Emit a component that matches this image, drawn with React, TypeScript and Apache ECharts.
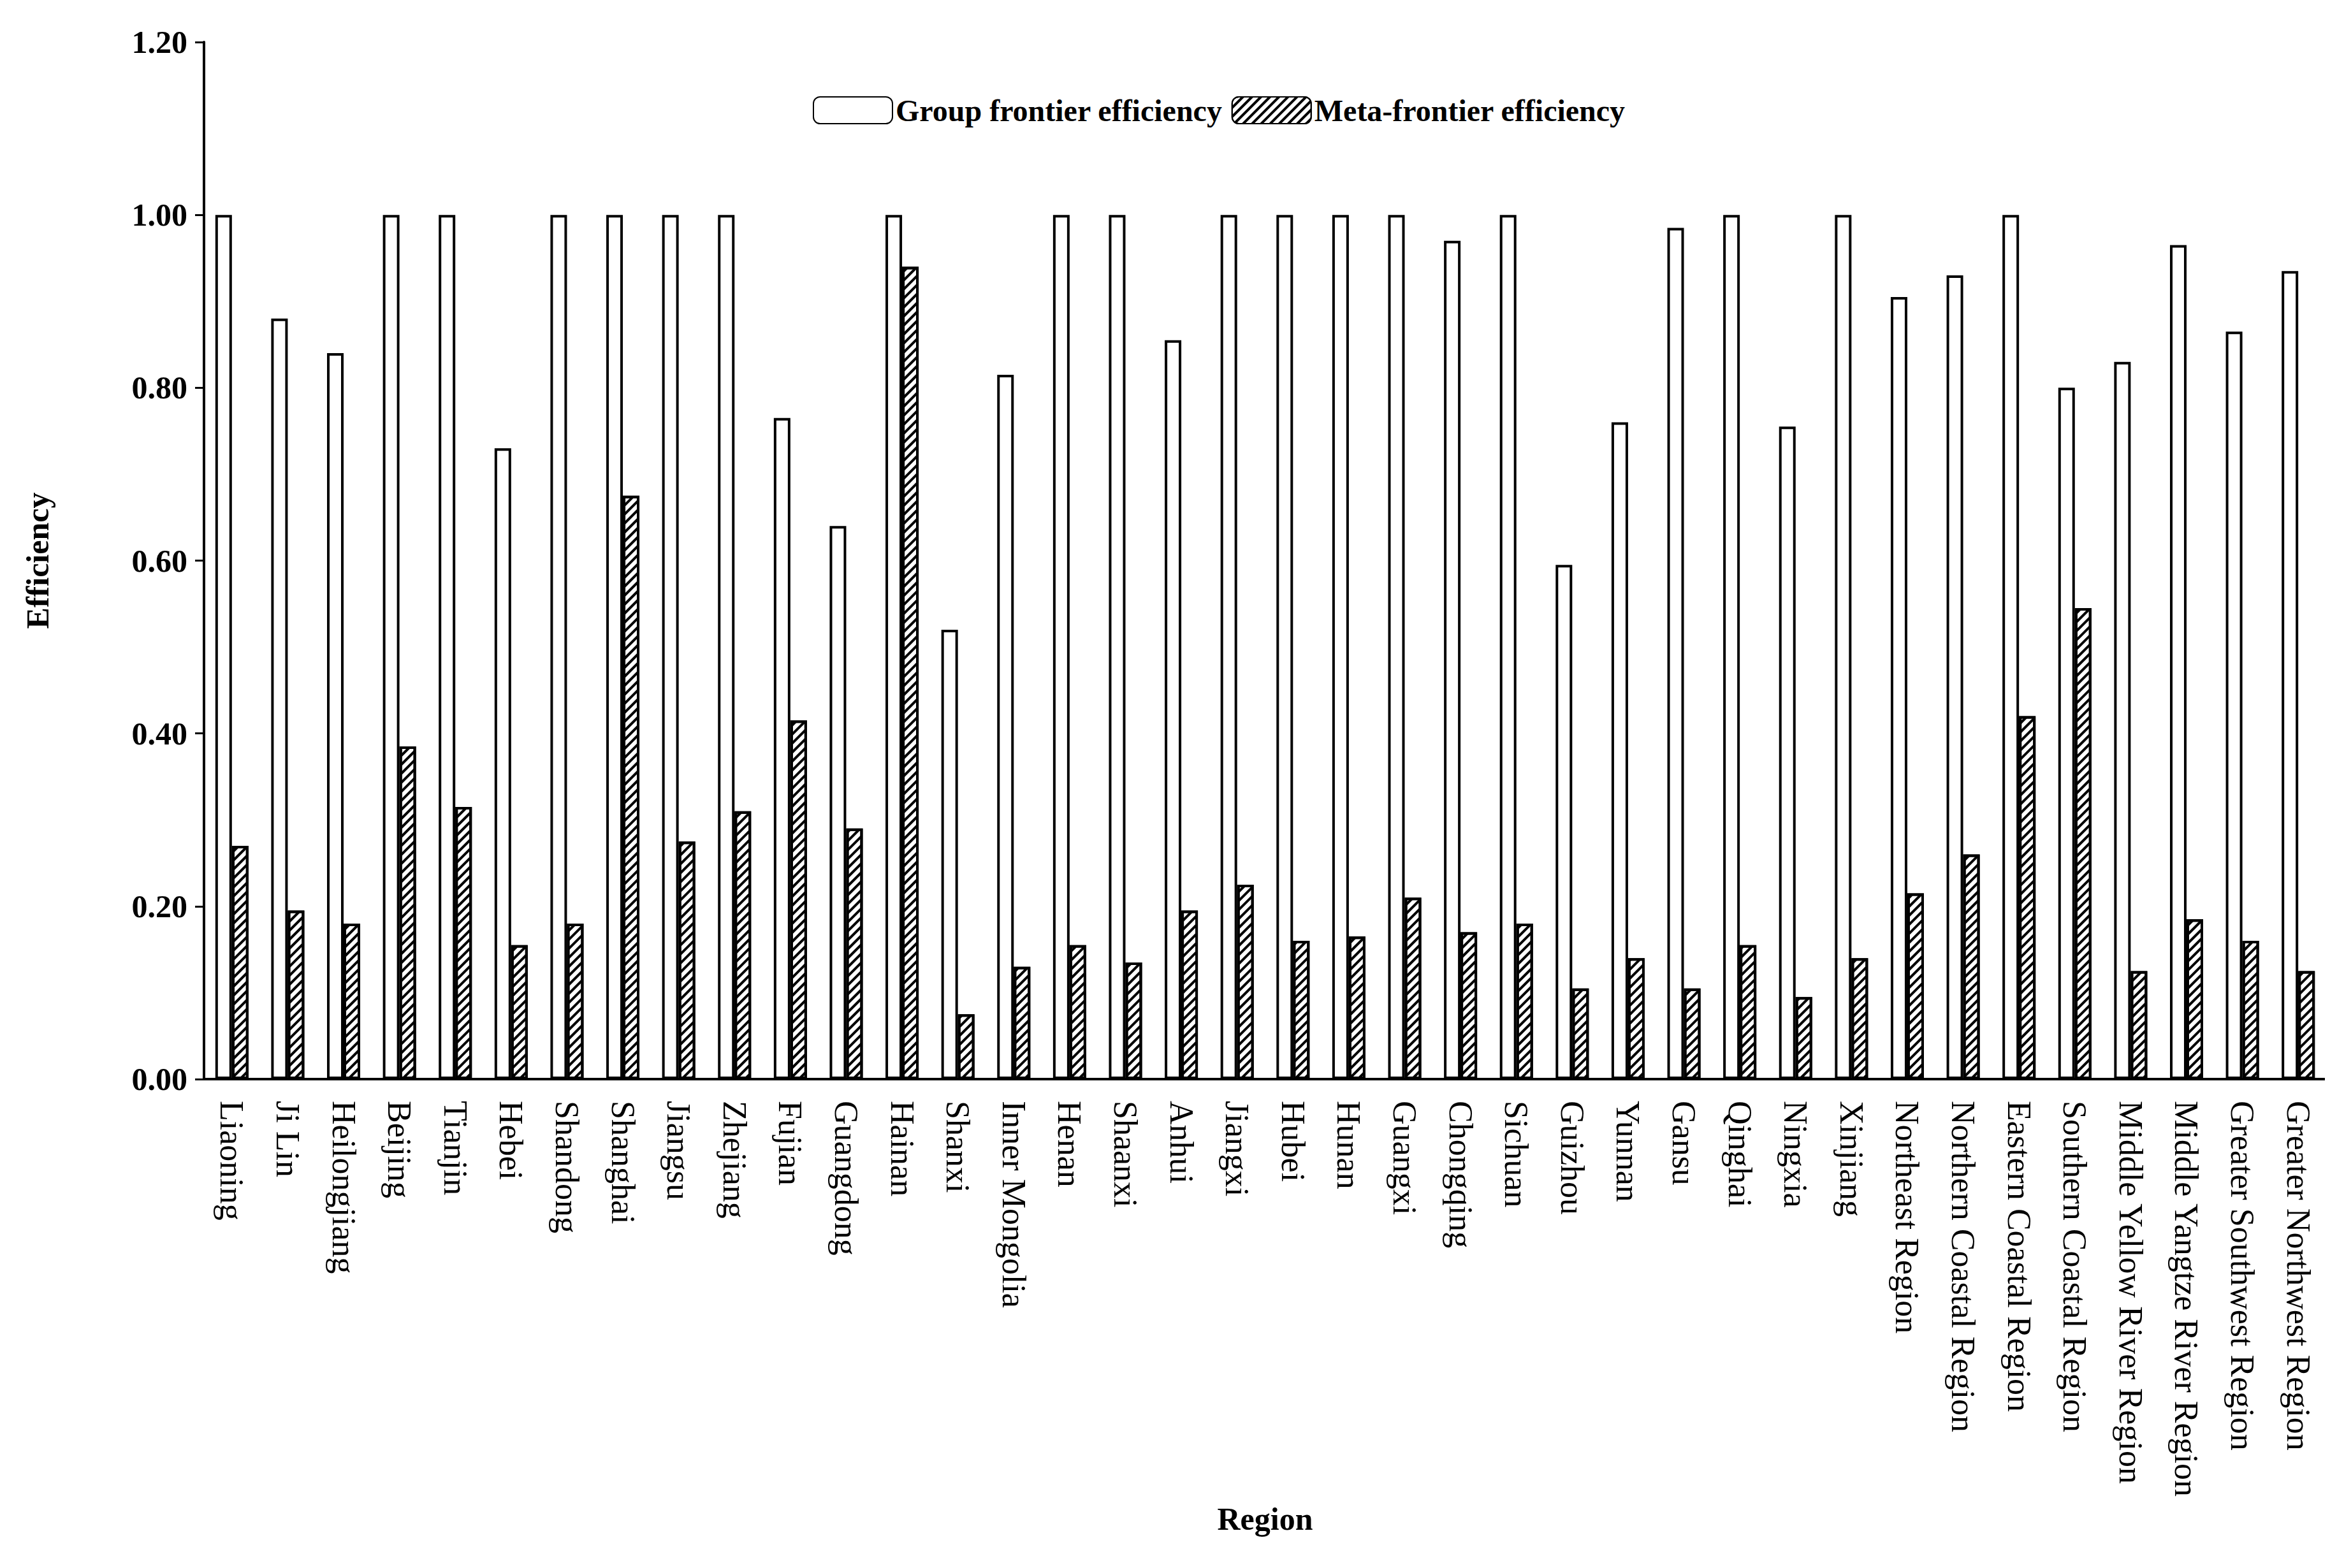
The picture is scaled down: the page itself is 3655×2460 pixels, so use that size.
import React, { useEffect, useRef } from 'react';
import * as echarts from 'echarts';

const regions = [
  'Liaoning', 'Ji Lin', 'Heilongjiang', 'Beijing', 'Tianjin', 'Hebei', 'Shandong', 'Shanghai',
  'Jiangsu', 'Zhejiang', 'Fujian', 'Guangdong', 'Hainan', 'Shanxi', 'Inner Mongolia', 'Henan',
  'Shaanxi', 'Anhui', 'Jiangxi', 'Hubei', 'Hunan', 'Guangxi', 'Chongqing', 'Sichuan', 'Guizhou',
  'Yunnan', 'Gansu', 'Qinghai', 'Ningxia', 'Xinjiang', 'Northeast Region', 'Northern Coastal Region',
  'Eastern Coastal Region', 'Southern Coastal Region', 'Middle Yellow River Region',
  'Middle Yangtze River Region', 'Greater Southwest Region', 'Greater Northwest Region',
];

const groupFrontier = [
  1.0, 0.88, 0.84, 1.0, 1.0, 0.73, 1.0, 1.0, 1.0, 1.0, 0.765, 0.64, 1.0, 0.52, 0.815, 1.0,
  1.0, 0.855, 1.0, 1.0, 1.0, 1.0, 0.97, 1.0, 0.595, 0.76, 0.985, 1.0, 0.755, 1.0, 0.905, 0.93,
  1.0, 0.8, 0.83, 0.965, 0.865, 0.935,
];

const metaFrontier = [
  0.27, 0.195, 0.18, 0.385, 0.315, 0.155, 0.18, 0.675, 0.275, 0.31, 0.415, 0.29, 0.94, 0.075,
  0.13, 0.155, 0.135, 0.195, 0.225, 0.16, 0.165, 0.21, 0.17, 0.18, 0.105, 0.14, 0.105, 0.155,
  0.095, 0.14, 0.215, 0.26, 0.42, 0.545, 0.125, 0.185, 0.16, 0.125,
];

const font = '"Liberation Serif", "Times New Roman", serif';

const App: React.FC = () => {
  const chartRef = useRef<HTMLDivElement>(null);

  useEffect(() => {
    if (!chartRef.current) return;
    const chart = echarts.init(chartRef.current, undefined, { renderer: 'svg' });

    // diagonal hatching for the meta-frontier bars
    const hatch = {
      symbol: 'rect',
      symbolSize: 1,
      dashArrayX: [1, 0],
      dashArrayY: [4, 6],
      rotation: -Math.PI / 4,
      color: '#000',
      backgroundColor: '#fff',
    };

    chart.setOption({
      animation: false,
      backgroundColor: '#fff',
      textStyle: { fontFamily: font, color: '#000' },
      legend: {
        top: 136,
        left: 1262,
        itemWidth: 124,
        itemGap: 14,
        itemHeight: 42,
        textStyle: { fontFamily: font, fontSize: 48, fontWeight: 'bold', color: '#000' },
      },
      grid: { left: 312, right: 14, top: 58, bottom: 775 },
      xAxis: {
        type: 'category',
        data: regions,
        name: 'Region',
        nameLocation: 'middle',
        nameGap: 575,
        nameTextStyle: { fontFamily: font, fontSize: 50, fontWeight: 'bold', color: '#000' },
        axisLine: { lineStyle: { color: '#000', width: 4 } },
        axisTick: { lineStyle: { color: '#000', width: 3 }, length: 14 },
        axisLabel: {
          rotate: -90,
          interval: 0,
          fontFamily: font,
          fontSize: 52,
          color: '#000',
          margin: 34,
        },
      },
      yAxis: {
        type: 'value',
        min: 0,
        max: 1.2,
        interval: 0.2,
        name: 'Efficiency',
        nameLocation: 'middle',
        nameGap: 236,
        nameTextStyle: { fontFamily: font, fontSize: 50, fontWeight: 'bold', color: '#000' },
        axisLine: { show: true, lineStyle: { color: '#000', width: 4 } },
        axisTick: { show: true, inside: false, length: 14, lineStyle: { color: '#000', width: 3 } },
        splitLine: { show: false },
        axisLabel: {
          formatter: (v: number) => v.toFixed(2),
          fontFamily: font,
          fontSize: 50,
          fontWeight: 'bold',
          color: '#000',
          margin: 26,
        },
      },
      series: [
        {
          name: 'Group frontier efficiency',
          type: 'bar',
          data: groupFrontier,
          barWidth: 26,
          barGap: '0%',
          itemStyle: { color: '#fff', borderColor: '#000', borderWidth: 4 },
        },
        {
          name: 'Meta-frontier efficiency',
          type: 'bar',
          data: metaFrontier,
          barWidth: 26,
          itemStyle: { color: '#fff', borderColor: '#000', borderWidth: 4, decal: hatch },
        },
      ],
    });

    return () => chart.dispose();
  }, []);

  return <div ref={chartRef} style={{ width: 3655, height: 2460 }} />;
};

export default App;
